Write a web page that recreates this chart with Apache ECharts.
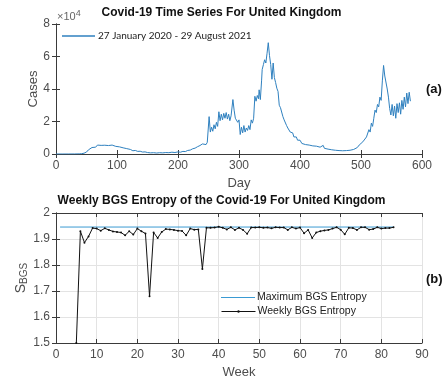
<!DOCTYPE html>
<html>
<head>
<meta charset="utf-8">
<script src="https://cdn.jsdelivr.net/npm/echarts@6/dist/echarts.min.js"></script>
<style>
html,body{margin:0;padding:0;background:#fff;}
#c{width:443px;height:382px;}
</style>
</head>
<body>
<div id="c"></div>
<script>
// ---- Data: daily cases (top panel) ----
var caseDays = [0,10,20,30,38,42,46,50,53,56,59,62,65,68,71,74,77,80,83,86,89,92,95,98,101,104,107,110,113,116,119,122,126,130,134,138,142,146,150,155,160,165,170,175,180,185,190,195,200,204,208,212,216,220,224,228,232,236,240,243,246,248,250,251,253,255,257,259,261,263,265,267,269,271,273,275,277,279,281,283,285,287,289,290,292,294,296,298,300,302,304,306,308,310,312,314,316,318,320,322,324,326,328,330,332,333,335,337,338,340,342,344,346,348,350,352,354,356,358,360,362,364,366,368,370,372,374,376,378,380,382,384,386,388,390,392,394,396,398,400,403,406,409,412,415,418,421,424,427,430,433,436,438,440,443,446,449,452,455,458,461,464,467,470,473,476,479,482,485,488,491,494,497,500,503,506,509,511,513,515,517,519,521,523,525,527,529,531,533,535,537,539,541,543,545,547,549,551,553,555,557,559,561,563,565,567,569,571,573,575,577,579,581];
var caseValues = [0,0,5,20,80,200,500,1200,2500,3200,4000,4800,4200,5500,4600,5300,4400,5400,4500,5200,4300,5500,4600,4700,3800,4400,3500,3800,3000,3300,2500,2800,2000,2200,1600,1700,1200,1300,900,700,800,600,800,700,900,800,1100,900,1300,1100,1600,1500,2200,2400,3200,3600,4500,5200,6200,6800,5800,7200,7000,23000,13500,16500,14000,18000,15500,19500,17000,26000,20500,24500,21000,25000,22000,25500,21500,24500,20500,23500,24000,33500,27000,22000,23000,19500,21000,12000,16500,13000,17500,13500,16000,14500,17500,15000,21000,19000,22000,35500,32500,36000,34000,39500,33500,45000,52000,55000,58000,56000,62000,68500,60500,55000,46000,56000,47000,44000,40500,38500,30000,28500,29500,23000,21000,22000,17500,16000,17000,13500,12500,13000,10500,10000,10500,8500,8000,8500,6500,7000,5800,6500,5500,6000,5000,5800,4800,5200,4200,4500,5300,3500,3800,3000,3200,2600,2800,2300,2500,2100,2400,2000,2300,2100,2500,2300,3000,2800,3800,4000,5500,6000,7500,8000,10500,10000,15000,13500,19000,17000,22000,27000,25500,30500,29000,35000,33000,45000,54500,48000,47000,40000,35000,28000,24000,30500,23500,29500,22000,31000,25500,31500,24500,33000,27500,35000,29000,37500,31000,38000,32500];

// ---- Data: weekly BGS entropy (bottom panel) ----
var maxWeeks = [1, 83];
var maxEntropy = [1.946, 1.946];
var weeks = [5,6,7,8,9,10,11,12,13,14,15,16,17,18,19,20,21,22,23,24,25,26,27,28,29,30,31,32,33,34,35,36,37,38,39,40,41,42,43,44,45,46,47,48,49,50,51,52,53,54,55,56,57,58,59,60,61,62,63,64,65,66,67,68,69,70,71,72,73,74,75,76,77,78,79,80,81,82,83];
var weeklyEntropy = [1.5,1.93,1.886,1.91,1.942,1.94,1.932,1.941,1.935,1.929,1.927,1.925,1.914,1.93,1.917,1.94,1.93,1.921,1.68,1.925,1.904,1.927,1.938,1.937,1.935,1.932,1.931,1.914,1.94,1.936,1.937,1.785,1.943,1.943,1.944,1.947,1.943,1.937,1.945,1.935,1.943,1.935,1.92,1.944,1.944,1.945,1.943,1.944,1.941,1.945,1.944,1.944,1.935,1.945,1.94,1.944,1.922,1.935,1.904,1.925,1.93,1.933,1.935,1.94,1.945,1.936,1.918,1.943,1.942,1.935,1.945,1.945,1.936,1.938,1.945,1.94,1.942,1.942,1.945];

var chart = echarts.init(document.getElementById('c'), null, {renderer:'canvas'});
var axisCol = '#3a3a3a';
var labCol = '#4d4d4d';
var ff = 'Liberation Sans, Arial, sans-serif';

function pairs(xs, ys){ return xs.map(function(x,i){ return [x, ys[i]]; }); }

var gridLeft = 56, gridRight = 21;

function xAx(gi, min, max, iv, pos, withLabels, split, name, nameGap){
  return {
    type:'value', gridIndex:gi, min:min, max:max, interval:iv, position:pos,
    axisLine:{show:true, lineStyle:{color:axisCol, width:1}},
    axisTick:{show:true, inside:true, length:4, lineStyle:{color:axisCol}},
    axisLabel:{show:withLabels, color:labCol, fontSize:12, fontFamily:ff, margin:6},
    splitLine:{show:split, lineStyle:{color:'#e3e3e3', width:1}},
    name: name || '', nameLocation:'middle', nameGap:nameGap||0, nameMoveOverlap:false,
    nameTextStyle:{color:labCol, fontSize:13, fontFamily:ff}
  };
}
function yAx(gi, min, max, iv, pos, withLabels, split, fmt, name, nameGap, nameStyle){
  return {
    type:'value', gridIndex:gi, min:min, max:max, interval:iv, position:pos,
    axisLine:{show:true, lineStyle:{color:axisCol, width:1}},
    axisTick:{show:true, inside:true, length:4, lineStyle:{color:axisCol}},
    axisLabel:{show:withLabels, color:labCol, fontSize:12, fontFamily:ff, margin:6, formatter:fmt},
    splitLine:{show:split, lineStyle:{color:'#e3e3e3', width:1}},
    name: name || '', nameLocation:'middle', nameGap:nameGap||0, nameMoveOverlap:false,
    nameTextStyle: nameStyle || {color:labCol, fontSize:13, fontFamily:ff}
  };
}

var option = {
  backgroundColor:'#fff',
  animation:false,
  title:[
    {text:'Covid-19 Time Series For United Kingdom', left:'center', top:7,
     textStyle:{fontSize:12, fontWeight:'bold', color:'#111', fontFamily:ff}, padding:0},
    {text:'Weekly BGS Entropy of the Covid-19 For United Kingdom', left:'center', top:195,
     textStyle:{fontSize:12, fontWeight:'bold', color:'#111', fontFamily:ff}, padding:0}
  ],
  grid:[
    {left:gridLeft, right:gridRight, top:24, height:130},
    {left:gridLeft, right:gridRight, top:213, height:130}
  ],
  legend:[
    {data:['27 January 2020 - 29 August 2021'], left:62, top:31, icon:'rect', itemWidth:33, itemHeight:1.5,
     textStyle:{fontSize:10, color:'#222', fontFamily:'Lato, Open Sans, sans-serif', padding:[0,0,0,-2]}, padding:0},
    {data:['Maximum BGS Entropy'], left:221, top:292, icon:'rect', itemWidth:34, itemHeight:1.2,
     textStyle:{fontSize:10.5, color:'#222', fontFamily:ff, padding:[0,0,0,-3]}, padding:0},
    {data:['Weekly BGS Entropy'], left:221, top:306, itemWidth:34, itemHeight:3,
     lineStyle:{width:1}, itemStyle:{borderWidth:0},
     textStyle:{fontSize:10.5, color:'#222', fontFamily:ff, padding:[0,0,0,-3]}, padding:0}
  ],
  xAxis:[
    xAx(0, 0, 600, 100, 'bottom', true, false, 'Day', 23),
    xAx(0, 0, 600, 100, 'top', false, false),
    xAx(1, 0, 90, 10, 'bottom', true, true, 'Week', 23),
    xAx(1, 0, 90, 10, 'top', false, false)
  ],
  yAxis:[
    yAx(0, 0, 80000, 20000, 'left', true, false, function(v){return String(Math.round(v/1e4));}, 'Cases', 16),
    yAx(0, 0, 80000, 20000, 'right', false, false),
    yAx(1, 1.5, 2, 0.1, 'left', true, true, function(v){return String(Math.round(v*10)/10);},
        '{s|S}{b|BGS}', 27,
        {color:labCol, fontFamily:ff, rich:{s:{fontSize:14, color:labCol, fontFamily:ff}, b:{fontSize:10, color:labCol, fontFamily:ff, verticalAlign:'bottom', padding:[6,0,0,0]}}}),
    yAx(1, 1.5, 2, 0.1, 'right', false, false)
  ],
  series:[
    {name:'27 January 2020 - 29 August 2021', type:'line', xAxisIndex:0, yAxisIndex:0,
     data:pairs(caseDays, caseValues), showSymbol:false, symbol:'none',
     lineStyle:{color:'#2f80bf', width:1}, itemStyle:{color:'#2f80bf'}},
    {name:'Maximum BGS Entropy', type:'line', xAxisIndex:2, yAxisIndex:2,
     data:pairs(maxWeeks, maxEntropy), showSymbol:false, symbol:'none',
     lineStyle:{color:'#3a9ad3', width:1}, itemStyle:{color:'#3a9ad3'}},
    {name:'Weekly BGS Entropy', type:'line', xAxisIndex:2, yAxisIndex:2,
     data:pairs(weeks, weeklyEntropy), symbol:'circle', symbolSize:2, showSymbol:true,
     lineStyle:{color:'#111', width:1}, itemStyle:{color:'#111'}}
  ],
  graphic:[
    {type:'text', left:57, top:9, style:{text:'×10{sup|4}', rich:{sup:{fontSize:9, verticalAlign:'top', padding:[0,0,6,0], fill:'#666'}}, fill:'#666', fontSize:11, fontFamily:ff}},
    {type:'text', left:426, top:83, style:{text:'(a)', fill:'#111', fontSize:13, fontWeight:'bold', fontFamily:ff}},
    {type:'text', left:426, top:273, style:{text:'(b)', fill:'#111', fontSize:13, fontWeight:'bold', fontFamily:ff}}
  ]
};
chart.setOption(option);
</script>
</body>
</html>
